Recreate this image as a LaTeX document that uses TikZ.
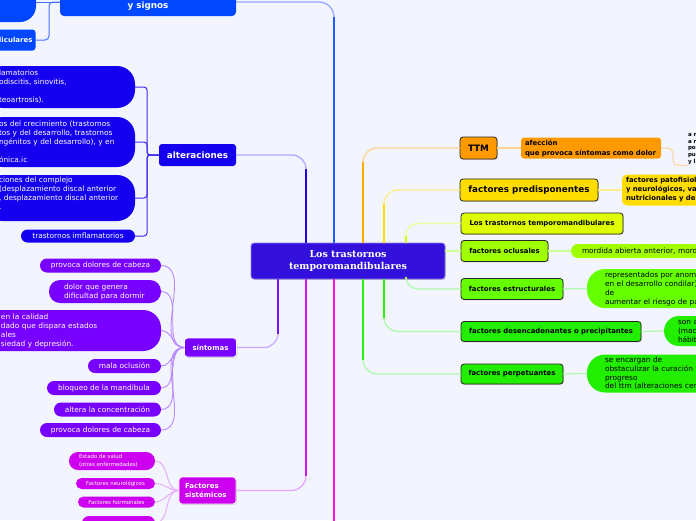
\documentclass[tikz,border=0pt]{standalone}
\usepackage{fontspec}
\setmainfont{DejaVu Sans}
\newfontfamily\serifbold{DejaVu Serif}
\usetikzlibrary{shadows}
\definecolor{bg}{RGB}{242,245,254}
\definecolor{cmain}{RGB}{52,16,220}
\definecolor{cblue}{RGB}{0,71,255}
\definecolor{cblueS}{RGB}{30,90,255}
\definecolor{cblueL}{RGB}{150,170,255}
\definecolor{cblueM}{RGB}{70,110,255}
\definecolor{calt}{RGB}{20,0,238}
\definecolor{caltS}{RGB}{34,0,238}
\definecolor{caltL}{RGB}{170,170,255}
\definecolor{caltM}{RGB}{60,40,240}
\definecolor{csin}{RGB}{119,0,255}
\definecolor{csinS}{RGB}{120,20,255}
\definecolor{csinL}{RGB}{205,170,255}
\definecolor{csinC}{RGB}{185,135,255}
\definecolor{csis}{RGB}{204,0,238}
\definecolor{csisS}{RGB}{210,20,240}
\definecolor{csisL}{RGB}{232,165,250}
\definecolor{cpink}{RGB}{255,17,221}
\definecolor{cttm}{RGB}{255,153,0}
\definecolor{cttmS}{RGB}{255,170,0}
\definecolor{cttmL}{RGB}{255,210,150}
\definecolor{cpre}{RGB}{255,221,0}
\definecolor{cpreL}{RGB}{255,236,140}
\definecolor{clos}{RGB}{221,255,0}
\definecolor{closL}{RGB}{235,255,150}
\definecolor{cocl}{RGB}{160,255,0}
\definecolor{coclL}{RGB}{205,255,150}
\definecolor{cest}{RGB}{102,255,0}
\definecolor{cestS}{RGB}{180,255,40}
\definecolor{cgrn}{RGB}{34,238,0}
\definecolor{cgrnS}{RGB}{40,240,10}
\definecolor{cgrnL}{RGB}{175,248,175}
\tikzset{
  shad/.style={drop shadow={opacity=0.35, shadow xshift=0.8pt, shadow yshift=-0.8pt}},
  mainbox/.style={fill=cmain, draw=cmain!55!white, line width=0.8pt, rounded corners=3pt, text=white, align=center, font=\serifbold\bfseries\fontsize{9.5}{12}\selectfont, shad},
  rbox/.style={draw=black!85, line width=0.8pt, rounded corners=3pt, text=black, font=\bfseries\fontsize{6.9}{8}\selectfont, shad},
  altblob/.style={fill=calt, text=white, rounded corners=18pt, anchor=east, text width=122pt, inner xsep=14pt, align=left, font=\fontsize{7.4}{9}\selectfont},
  sinpill/.style={fill=csin, text=white, rounded corners=7pt, minimum height=14pt, anchor=east, font=\fontsize{7.4}{9}\selectfont},
  sispill/.style={fill=csis, text=white, anchor=east, rounded corners=5.5pt, minimum height=11pt, font=\fontsize{5.4}{8}\selectfont},
  rblob/.style={anchor=west, align=left, font=\fontsize{7.4}{9}\selectfont},
}
\begin{document}
\begin{tikzpicture}[x=1pt,y=-1pt, every node/.style={inner sep=0pt, outer sep=0pt}]
\useasboundingbox (0,0) rectangle (696,520);
\fill[bg] (0,0) rectangle (696,520);

% ---------- nodes ----------
\node[mainbox, minimum width=194pt, minimum height=36pt] (center) at (348,261) {Los trastornos\\temporomandibulares};

% top left
\node[fill=cblue, rounded corners=16pt, minimum width=110pt, minimum height=60pt, anchor=south east] (blobtop) at (36,22) {};
\node[fill=cblue, rounded corners=4pt, minimum width=176pt, minimum height=28pt, text=white, align=center, font=\bfseries\fontsize{8.8}{11}\selectfont] (signos) at (148,2) {\vphantom{y}\\y signos};
\node[fill=cblue, rounded corners=3pt, minimum height=21pt, text width=52pt, inner xsep=3pt, align=right, anchor=east, text=white, font=\bfseries\fontsize{7}{8}\selectfont] (cular) at (35.5,40) {diculares};

% alteraciones
\node[fill=calt, rounded corners=3pt, minimum width=77pt, minimum height=22pt, text=white, font=\bfseries\fontsize{8.8}{10}\selectfont] (alt) at (197.5,155) {alteraciones};
\node[altblob, minimum height=42pt] (a1) at (135,87) {lamatorios\\odiscitis, sinovitis,\\\mbox{}\\teoartrosis).};
\node[altblob, minimum height=50pt] (a2) at (135,142) {os del crecimiento (trastornos\\tos y del desarrollo, trastornos\\ngénitos y del desarrollo), y en\\\mbox{}\\ónica.ic};
\node[altblob, minimum height=46pt] (a3) at (135,198) {ciones del complejo\\(desplazamiento discal anterior\\, desplazamiento discal anterior\\.\\\mbox{}};
\node[fill=calt, rounded corners=6.5pt, minimum width=114pt, minimum height=13pt, text=white, font=\fontsize{7.4}{9}\selectfont] (a4) at (78,236) {trastornos imflamatorios};

% sintomas
\node[fill=csin, draw=white, line width=0.8pt, rounded corners=3pt, minimum width=52pt, minimum height=19pt, text=white, font=\bfseries\fontsize{7}{8}\selectfont, shad] (sint) at (210.5,347.5) {síntomas};
\node[sinpill, minimum width=121pt] (s1) at (161,265.5) {provoca dolores de cabeza};
\node[sinpill, minimum height=23pt, rounded corners=11pt, text width=82pt, inner xsep=15pt, align=left] (s2) at (161,291.5) {dolor que genera\\dificultad para dormir};
\node[sinpill, minimum height=41pt, rounded corners=18pt, text width=140pt, inner xsep=20pt, align=left] (s3) at (161,330.5) {en la calidad\\dado que dispara estados\\ales\\siedad y depresión.};
\node[sinpill, minimum width=73pt] (s4) at (161,366) {mala oclusión};
\node[sinpill, minimum width=114pt] (s5) at (161,388) {bloqueo de la mandibula};
\node[sinpill, minimum width=107pt] (s6) at (161,409.5) {altera la concentración};
\node[sinpill, minimum width=121pt] (s7) at (161,430) {provoca dolores de cabeza};

% factores sistemicos
\node[fill=csis, draw=white, line width=0.8pt, rounded corners=3pt, minimum height=27pt, text width=45pt, inner xsep=6pt, align=left, text=white, font=\bfseries\fontsize{7}{9}\selectfont, shad] (sist) at (207.5,490.5) {Factores\\sistémicos};
\node[sispill, minimum height=18pt, rounded corners=9pt, text width=66pt, inner xsep=10pt, align=left] (e1) at (155,461) {Estado de salud\\(otras enfermedades)};
\node[sispill, minimum width=79pt] (e2) at (155,483.5) {Factores neurológicos};
\node[sispill, minimum width=77pt] (e3) at (155,502) {Factores hormonales};
\node[sispill, minimum width=73pt, minimum height=14pt, rounded corners=7pt] (e4) at (155,523) {};

% right side
\node[rbox, fill=cttm, minimum width=37pt, minimum height=22pt, font=\bfseries\fontsize{8.8}{10}\selectfont] (ttm) at (478.5,148) {TTM};
\node[fill=cttm, rounded corners=3pt, anchor=west, minimum height=21pt, text width=132pt, inner xsep=4pt, align=left, font=\bfseries\fontsize{6.9}{10}\selectfont] (afec) at (521,148) {afección\\que provoca síntomas como dolor};
\node[anchor=west, inner sep=1pt, align=left, font=\bfseries\fontsize{5.5}{6.6}\selectfont] (small) at (687,149) {a m\\a n\\po\\pu\\y l};

\node[rbox, fill=cpre, minimum width=138pt, minimum height=22pt, font=\bfseries\fontsize{8.8}{10}\selectfont] (pred) at (529,190) {factores predisponentes};
\node[fill=cpre, rounded corners=5pt, anchor=west, minimum height=31pt, text width=120pt, inner xsep=4pt, align=left, font=\bfseries\fontsize{6.9}{9}\selectfont] (predc) at (622,190) {factores patofisiol\\y neurológicos, va\\nutricionales y de};

\node[rbox, fill=clos, minimum width=162pt, minimum height=21pt] (lostr) at (542,223.5) {Los trastornos temporomandibulares};

\node[rbox, fill=cocl, minimum width=87pt, minimum height=21pt] (oclus) at (504.5,251) {factores oclusales};
\node[fill=cocl, rounded corners=7pt, rblob, minimum height=14pt, text width=130pt, inner xsep=11pt] (oclc) at (571,251) {mordida abierta anterior, mordid};

\node[rbox, fill=cest, minimum width=102pt, minimum height=21pt] (estr) at (512,289) {factores estructurales};
\node[fill=cest, rounded corners=18pt, rblob, minimum height=39pt, text width=110pt, inner xsep=18pt] (estrc) at (587,288.5) {representados por anoma\\en el desarrollo condilar),\\de\\aumentar el riesgo de pad};

\node[rbox, fill=cgrn, minimum width=180pt, minimum height=20pt] (desen) at (551,331.5) {factores desencadenantes o precipitantes};
\node[fill=cgrn, rounded corners=15pt, rblob, minimum height=30pt, text width=60pt, inner xsep=14pt] (desenc) at (664,331) {son a\\(mac\\hábit};

\node[rbox, fill=cgrn, minimum width=102pt, minimum height=20pt] (perp) at (512,374) {factores perpetuantes};
\node[fill=cgrn, rounded corners=18pt, rblob, minimum height=38pt, text width=110pt, inner xsep=18pt, font=\fontsize{7.4}{8.7}\selectfont] (perpc) at (587,373.5) {se encargan de\\obstaculizar la curación y\\progreso\\del ttm (alteraciones cerv};

% ---------- connector anchors ----------
\coordinate (tA) at ([xshift=-42pt]center.north);
\coordinate (tB) at ([xshift=-14pt]center.north);
\coordinate (tC) at ([xshift=15pt]center.north);
\coordinate (tD) at ([xshift=36pt]center.north);
\coordinate (tE) at ([xshift=58pt]center.north);
\coordinate (bZ) at ([xshift=-70pt]center.south);
\coordinate (bA) at ([xshift=-42pt]center.south);
\coordinate (bB) at ([xshift=-14pt]center.south);
\coordinate (bC) at ([xshift=15pt]center.south);
\coordinate (bD) at ([xshift=36pt]center.south);
\coordinate (bE) at ([xshift=58pt]center.south);
\coordinate (pend) at (334,530);

% ---------- main connectors ----------
\draw[cblueL, line width=1.3pt, rounded corners=15pt] (tB) |- (signos.east);
\draw[cblueS, line width=1.8pt, shorten >=15pt] (tB) -- (tB |- signos.east);
\draw[caltL, line width=1.3pt, rounded corners=14pt] (tA) |- (alt.east);
\draw[caltS, line width=1.8pt, shorten >=14pt] (tA) -- (tA |- alt.east);
\draw[csinL, line width=1.3pt, rounded corners=14pt] (bZ) |- (sint.east);
\draw[csinS, line width=1.8pt, shorten >=14pt] (bZ) -- (bZ |- sint.east);
\draw[csisL, line width=1.3pt, rounded corners=15pt] (bA) |- (sist.east);
\draw[csisS, line width=1.8pt, shorten >=15pt] (bA) -- (bA |- sist.east);
\draw[cpink, line width=1.8pt] (bB) -- (pend);

\draw[cttmL, line width=1.3pt, rounded corners=14pt] (tC) |- (ttm.west);
\draw[cttmS, line width=1.8pt, shorten >=14pt] (tC) -- (tC |- ttm.west);
\draw[cpreL, line width=1.3pt, rounded corners=14pt] (tD) |- (pred.west);
\draw[cpre, line width=1.8pt, shorten >=14pt] (tD) -- (tD |- pred.west);
\draw[closL, line width=1.3pt, rounded corners=12pt] (tE) |- (lostr.west);
\draw[clos, line width=1.8pt, shorten >=12pt] (tE) -- (tE |- lostr.west);
\draw[coclL, line width=1.3pt] (oclus.west -| center.east) -- (oclus.west);
\draw[cgrnL, line width=1.3pt, rounded corners=12pt] (bE) |- (estr.west);
\draw[cestS, line width=1.8pt, shorten >=12pt] (bE) -- (bE |- estr.west);
\draw[cgrnL, line width=1.3pt, rounded corners=14pt] (bD) |- (desen.west);
\draw[cgrnS, line width=1.8pt, shorten >=14pt] (bD) -- (bD |- desen.west);
\draw[cgrnL, line width=1.3pt, rounded corners=14pt] (bC) |- (perp.west);
\draw[cgrnS, line width=1.8pt, shorten >=14pt] (bC) -- (bC |- perp.west);

% ---------- child connectors ----------
\draw[cblueM, line width=1pt] (signos.west) -- (signos.west -| blobtop.east);
\draw[cblueM, line width=1pt, rounded corners=4pt] (signos.west) -- ++(-11,0) |- (cular.east);

\draw[caltM, line width=1pt, rounded corners=3pt] (alt.west) -- ++(-12,0) |- (a1.east);
\draw[caltM, line width=1pt, rounded corners=3pt] (alt.west) -- ++(-12,0) |- (a2.east);
\draw[caltM, line width=1pt, rounded corners=3pt] (alt.west) -- ++(-12,0) |- (a3.east);
\draw[caltM, line width=1pt, rounded corners=3pt] (alt.west) -- ++(-12,0) |- (a4.east);

\foreach \s in {s1,s2,s3,s4,s5,s6,s7}
  \draw[csinC, line width=0.9pt] (\s.east) to[out=0,in=180] (sint.west);
\foreach \e in {e1,e2,e3,e4}
  \draw[csisL, line width=0.9pt] (\e.east) to[out=0,in=180] (sist.west);

\draw[cttmL, line width=1.2pt] (ttm.east) -- (afec.west);
\draw[cttmL, line width=1pt, rounded corners=5pt] (afec.east) -- ++(12,0) |- (small.south west);
\draw[cpreL, line width=1.2pt] (pred.east) -- (predc.west);
\draw[coclL, line width=1.2pt] (oclus.east) -- (oclc.west);
\draw[cgrnL, line width=1.2pt] (estr.east) -- (estrc.west);
\draw[cgrnL, line width=1.2pt] (desen.east) -- (desenc.west);
\draw[cgrnL, line width=1.2pt] (perp.east) -- (perpc.west);
\end{tikzpicture}
\end{document}
